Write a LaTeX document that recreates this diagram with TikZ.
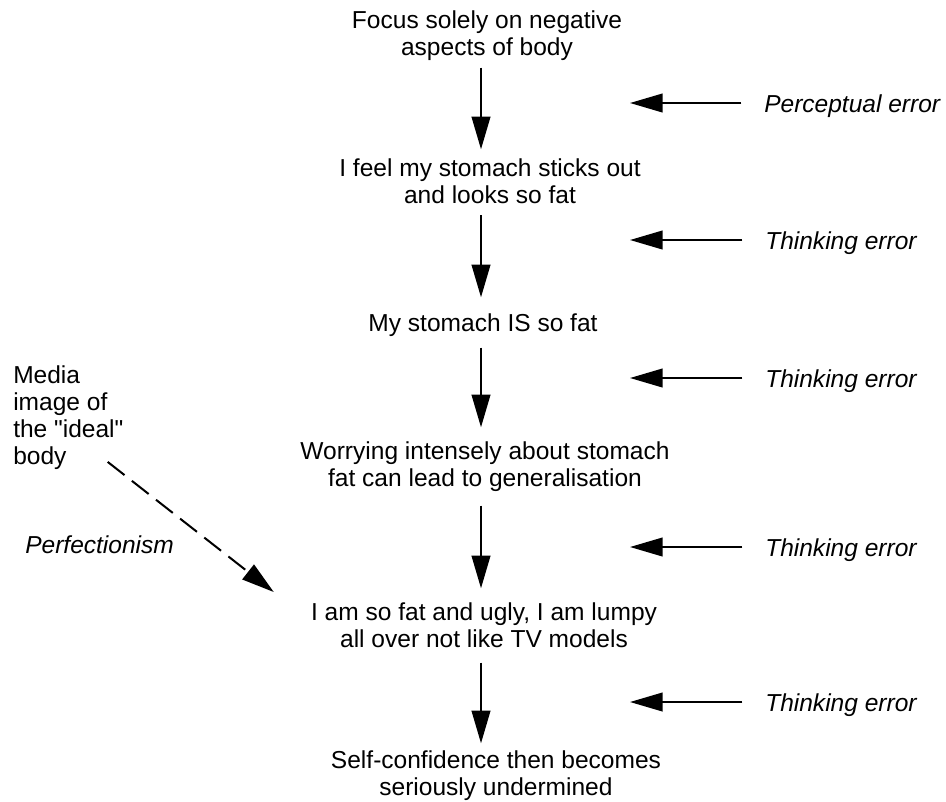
\documentclass[tikz,border=0pt]{standalone}
\usepackage{fontspec}
\setmainfont{Liberation Sans}[Ligatures=TeXOff]
\usetikzlibrary{arrows.meta}

\begin{document}
\begin{tikzpicture}[x=0.75pt,y=-0.75pt,
        txt/.style={inner sep=0pt,align=center,font=\fontsize{18.4}{20.25}\selectfont},
        err/.style={inner sep=0pt,anchor=base west,font=\fontsize{18.4}{20.25}\selectfont\itshape},
        flow/.style={line width=1.5pt,-{Triangle[length=24.5pt,width=14pt]}},
        dashflow/.style={flow,dash pattern=on 16pt off 7pt}]
    \useasboundingbox (0,0) rectangle (946,801);
    \coordinate (axis) at (481,0);
    % the chain of thoughts
    \node[txt,anchor=north] (focus) at (487,10.3) {Focus solely on negative\\aspects of body};
    \node[txt,anchor=north] (feel) at (490,158.3) {I feel my stomach sticks out\\and looks so fat};
    \node[txt,anchor=north] (isfat) at (483,313.3) {My stomach IS so fat};
    \node[txt,anchor=north] (worry) at (485,441.3) {Worrying intensely about stomach\\fat can lead to generalisation};
    \node[txt,anchor=north] (ugly) at (484,602.3) {I am so fat and ugly, I am lumpy\\all over not like TV models};
    \node[txt,anchor=north] (conf) at (496,750.3) {Self-confidence then becomes\\seriously undermined};
    \draw[flow,shorten <=5.25pt,shorten >=6.75pt] (focus.south -| axis) -- (feel.north -| axis);
    \draw[flow,shorten <=8.7pt,shorten >=12pt] (feel.south -| axis) -- (isfat.north -| axis);
    \draw[flow,shorten <=8.25pt,shorten >=10.5pt] (isfat.south -| axis) -- (worry.north -| axis);
    \draw[flow,shorten <=10.5pt,shorten >=10.5pt] (worry.south -| axis) -- (ugly.north -| axis);
    \draw[flow,shorten <=11pt,shorten >=5.25pt] (ugly.south -| axis) -- (conf.north -| axis);
    % errors on the right
    \coordinate (t1) at (630,103);
    \coordinate (t2) at (630,240);
    \coordinate (t3) at (630,378);
    \coordinate (t4) at (630,547);
    \coordinate (t5) at (630,702);
    \node[err] (e1) at (764,112) {Perceptual error};
    \node[err] (e2) at (765,249) {Thinking error};
    \node[err] (e3) at (765,387) {Thinking error};
    \node[err] (e4) at (765,556) {Thinking error};
    \node[err] (e5) at (765,711) {Thinking error};
    \foreach \i in {1,...,5}
        \draw[flow,shorten <=17pt] (e\i.west |- t\i) -- (t\i);
    % media on the left
    \node[txt,align=left,anchor=north west] (media) at (13,365.5) {Media\\image of\\the "ideal"\\body};
    \node[err] (perf) at (25,553) {Perfectionism};
    \draw[dashflow] ([xshift=-12pt,yshift=6pt]media.south east) -- ([xshift=-27.75pt,yshift=7.7pt]ugly.north west);
\end{tikzpicture}
\end{document}
